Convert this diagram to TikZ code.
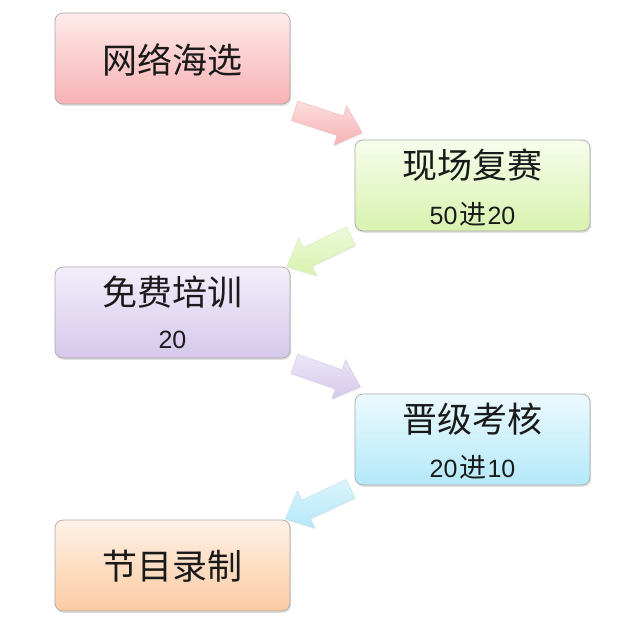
\documentclass[tikz,border=0pt]{standalone}
\usepackage{fontspec}
\setmainfont{Noto Sans CJK SC}
\newfontfamily\digitfont{Liberation Sans}
\usetikzlibrary{shapes.arrows,shadows,calc}
\definecolor{txt}{HTML}{1A1A1A}
\definecolor{boxline}{HTML}{A8A8A8}
\definecolor{cat}{HTML}{FEEAEA}\definecolor{cab}{HTML}{F7B2B4}
\definecolor{cbt}{HTML}{F7FDEC}\definecolor{cbb}{HTML}{D8F2AE}
\definecolor{cct}{HTML}{F3EEF9}\definecolor{ccb}{HTML}{D5C8EC}
\definecolor{cdt}{HTML}{ECFAFF}\definecolor{cdb}{HTML}{B3E8F8}
\definecolor{cet}{HTML}{FFF1E6}\definecolor{ceb}{HTML}{FBCBA2}
\newcommand{\dg}[1]{{\digitfont\fontsize{25}{25}\selectfont #1}}
\begin{document}
\begin{tikzpicture}[x=1pt,y=-1pt,
  box/.style={rounded corners=8pt, draw=boxline, line width=0.7pt,
    minimum width=235pt, minimum height=91pt, anchor=north west,
    inner sep=0pt, outer sep=0pt,
    drop shadow={shadow xshift=1.2pt, shadow yshift=-1.8pt, opacity=0.25}},
  title/.style={font=\fontsize{35}{35}\selectfont, text=txt, inner sep=0pt},
  sub/.style={font=\fontsize{27}{27}\selectfont, text=txt, inner sep=0pt},
  barrow/.style={single arrow, single arrow head extend=10.5pt, single arrow tip angle=84,
    inner xsep=0pt, inner ysep=10pt, outer sep=0pt,
    draw=#1!85!gray!80!white, line width=0.4pt,
    top color=#1!45!white, bottom color=#1,
    drop shadow={shadow xshift=0.8pt, shadow yshift=-1.2pt, opacity=0.12}},
]
\path[use as bounding box, fill=white] (0,0) rectangle (640,623);

\node[box, top color=cat, bottom color=cab] (b1) at (55,13) {};
\node[box, top color=cbt, bottom color=cbb] (b2) at (355,140) {};
\node[box, top color=cct, bottom color=ccb] (b3) at (55,267) {};
\node[box, top color=cdt, bottom color=cdb] (b4) at (355,394) {};
\node[box, top color=cet, bottom color=ceb] (b5) at (55,520) {};

\node[title] (t1) at ($(b1.center)+(0,1.5)$) {网络海选};
\node[title] (t2) at ($(b2.north)+(0,25)$) {现场复赛};
\node[sub]   (s2) at ($(b2.north)+(0,74)$) {\dg{50}\kern1.5pt 进\kern1.5pt\dg{20}};
\node[title] (t3) at ($(b3.north)+(0,25)$) {免费培训};
\node[sub]   (s3) at ($(b3.north)+(0,73)$) {\dg{20}};
\node[title] (t4) at ($(b4.north)+(0,25)$) {晋级考核};
\node[sub]   (s4) at ($(b4.north)+(0,73)$) {\dg{20}\kern1.5pt 进\kern1.5pt\dg{10}};
\node[title] (t5) at ($(b5.center)+(0,1)$) {节目录制};

\node[barrow=cab, minimum height=71pt, rotate=-18] (a1)
  at ($(b1.south east)!0.5!(b2.north west)+(0.5,-2)$) {};
\node[barrow=cbb, minimum height=71pt, rotate=205.5] (a2)
  at ($(b2.south west)!0.5!(b3.north east)+(1.5,0)$) {};
\node[barrow=ccb, minimum height=70pt, rotate=-19.2] (a3)
  at ($(b3.south east)!0.5!(b4.north west)+(-0.5,-2.5)$) {};
\node[barrow=cdb, minimum height=72pt, rotate=205] (a4)
  at ($(b4.south west)!0.5!(b5.north east)+(0.5,-1)$) {};
\end{tikzpicture}
\end{document}
